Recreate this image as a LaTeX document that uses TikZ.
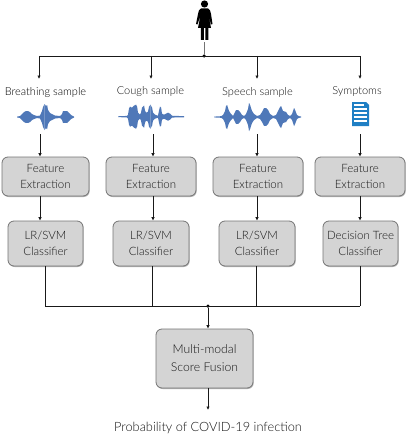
\documentclass[tikz,border=0pt]{standalone}
\usepackage{fontspec}
\setmainfont{Lato Light}[BoldFont=Lato]
\usetikzlibrary{shadows,arrows.meta}
\definecolor{boxfill}{HTML}{D4D4D4}
\definecolor{boxline}{HTML}{757575}
\definecolor{wavecol}{HTML}{4F78B8}
\definecolor{doccol}{HTML}{1F7FC4}
\definecolor{txtcol}{HTML}{141414}
\tikzset{
  conn/.style={-{Latex[length=3.5pt,width=3.5pt]}, line width=0.9pt, black!90},
  wire/.style={line width=0.9pt, black!90},
  block/.style={draw=boxline, fill=boxfill, rounded corners=6pt, line width=0.8pt,
    text=txtcol, align=center, font=\fontsize{11.5}{16}\selectfont, inner sep=0pt,
    drop shadow={shadow xshift=0.7pt, shadow yshift=-1pt, fill=black!60}},
  lab/.style={text=txtcol, font=\fontsize{11}{13}\selectfont, inner sep=0pt},
  jun/.style={circle, fill=black, inner sep=0pt, minimum size=3.5pt},
}
% one sound wave: mirrored envelope from a list of x/halfheight
\newcommand{\soundwave}[3]{
  \foreach \x/\h [remember=\x as \lx (initially #2), remember=\h as \lh (initially 0.4)] in {#3} {
    \fill[wavecol] (\lx,#1-\lh) -- (\x,#1-\h) -- (\x,#1+\h) -- (\lx,#1+\lh) -- cycle;
  }
}
\begin{document}
\begin{tikzpicture}[x=1pt, y=-1pt]
    \useasboundingbox (0,0) rectangle (408,436);

    % Person
    \fill (204.5,4) circle[radius=3.6];
    \fill (201,8.5) -- (208,8.5) .. controls (210,9) and (210.5,11) .. (211,14)
      -- (212.5,24) -- (211,24.5) -- (208.5,15) -- (211,28) -- (208.3,28) -- (208.3,40)
      -- (205.3,40) -- (205.3,28) -- (203.8,28) -- (203.8,40) -- (200.8,40) -- (200.8,28)
      -- (198,28) -- (200.5,15) -- (197.5,24.5) -- (196,24) -- (198,14)
      .. controls (198.5,11) and (199,9) .. (201,8.5) -- cycle;

    % Branching to the four samples
    \coordinate (person) at (204,42);
    \node[jun] (split) at (204,56) {};
    \draw[wire, black!55] (person) -- (split);
    \coordinate (drop1) at (39,56);
    \coordinate (drop2) at (151,56);
    \coordinate (drop3) at (257,56);
    \coordinate (drop4) at (360,56);
    \draw[wire] (drop1) -- (drop4);

    % Sample labels
    \node[lab, text=black] (breath) at (45.5,93) {Breathing sample};
    \node[lab] (cough) at (150.5,92) {Cough sample};
    \node[lab] (speech) at (257.5,92) {Speech sample};
    \node[lab] (symptoms) at (357,92) {Symptoms};
    \coordinate (end1) at (39,79);
    \coordinate (end2) at (151,79);
    \coordinate (end3) at (257,79);
    \coordinate (end4) at (360,79);
    \foreach \i in {1,2,3,4} {
        \draw[conn] (drop\i) -- (end\i);
    }

    % Sound waves
    \soundwave{117}{17}{20/1,22/3,24/5,26/6,28/6,30/5,32/3,34/2,37/1,40/1.5,42/6,43/10,44.5/13,46/11,47/12,48/7,50/4,52/3,55/1.5,60/1,62/3,63/6,65/6,67/6,69/4,71/2,74/0.5}
    \soundwave{116.7}{118}{127/0.8,128/2,129/8,130/10,132/9,134/11,136/12,137/10,138/4,140/2,141/4,142/9,144/11,145/6,146/4,148/5,149/10,150.5/12,152/9,153/4,155/2,158/1,159/6,160/10,161/9,162/3,164/2,166/3,168/4,170/3,172/1,174/0.8,184/0.6}
    \soundwave{117}{214}{221/0.8,223/2,225/6,226/11,227/12,229/6,231/3,233/1,235/5,236/7,238/7,240/5,242/2,244/1,246/3,248/8,249/14,250/12,252/6,254/3,257/1,260/2,262/5,264/9,266/9,268/7,270/3,273/1,276/2,278/6,280/10,281/11,283/6,286/5,288/2,290/1,292/3,294/9,295/7,297/2,299/0.8,301/0.6}

    % Document icon
    \fill[doccol] (352,102) -- (366,102) -- (369,105) -- (369,126) -- (352,126) -- cycle;
    \fill[white] (354,104) rectangle (364,106);
    \foreach \y in {108,112,116,120} {
        \fill[white] (354,\y) rectangle (367,\y+2);
    }

    % Feature extraction
    \node[block, minimum width=87pt, minimum height=39pt] (feat1) at (45.5,176.5) {Feature\\Extraction};
    \node[block, minimum width=90pt, minimum height=39pt] (feat2) at (151,176.5) {Feature\\Extraction};
    \node[block, minimum width=90pt, minimum height=39pt] (feat3) at (258,176.5) {Feature\\Extraction};
    \node[block, minimum width=90pt, minimum height=39pt] (feat4) at (360,176.5) {Feature\\Extraction};

    % Classifiers
    \node[block, minimum width=75pt, minimum height=45pt] (clf1) at (45.5,243.5) {LR/SVM\\Classifier};
    \node[block, minimum width=76pt, minimum height=45pt] (clf2) at (151,243.5) {LR/SVM\\Classifier};
    \node[block, minimum width=76pt, minimum height=45pt] (clf3) at (257,243.5) {LR/SVM\\Classifier};
    \node[block, minimum width=75pt, minimum height=45pt] (clf4) at (360.5,243.5) {Decision Tree\\Classifier};

    % Arrows into and between the blocks
    \coordinate (in1) at (40,134);
    \coordinate (in2) at (153,134);
    \coordinate (in3) at (257,134);
    \coordinate (in4) at (360,134);
    \foreach \i in {1,2,3,4} {
        \draw[conn] (in\i) -- (in\i |- feat\i.north);
        \draw[conn] (in\i |- feat\i.south) -- (in\i |- clf\i.north);
    }

    % Merging the scores
    \node[jun] (merge) at (208,306) {};
    \node[block, minimum width=97pt, minimum height=59pt, font=\fontsize{12.2}{18}\selectfont] (fusion) at (204.5,358.5) {Multi-modal\\Score Fusion};
    \node[lab, font=\fontsize{12.8}{15}\selectfont] (result) at (208,428) {Probability of COVID-19 infection};
    \coordinate (sum1) at (45,306);
    \coordinate (sum2) at (152,306);
    \coordinate (sum3) at (256,306);
    \coordinate (sum4) at (360,306);
    \coordinate (out) at (208,410);
    \draw[wire] (sum1) -- (sum4);
    \foreach \i in {1,2,3,4} {
        \draw[wire] (sum\i |- clf\i.south) -- (sum\i);
    }
    \draw[conn] (merge) -- (merge |- fusion.north);
    \draw[conn] (merge |- fusion.south) -- (out);

\end{tikzpicture}
\end{document}
